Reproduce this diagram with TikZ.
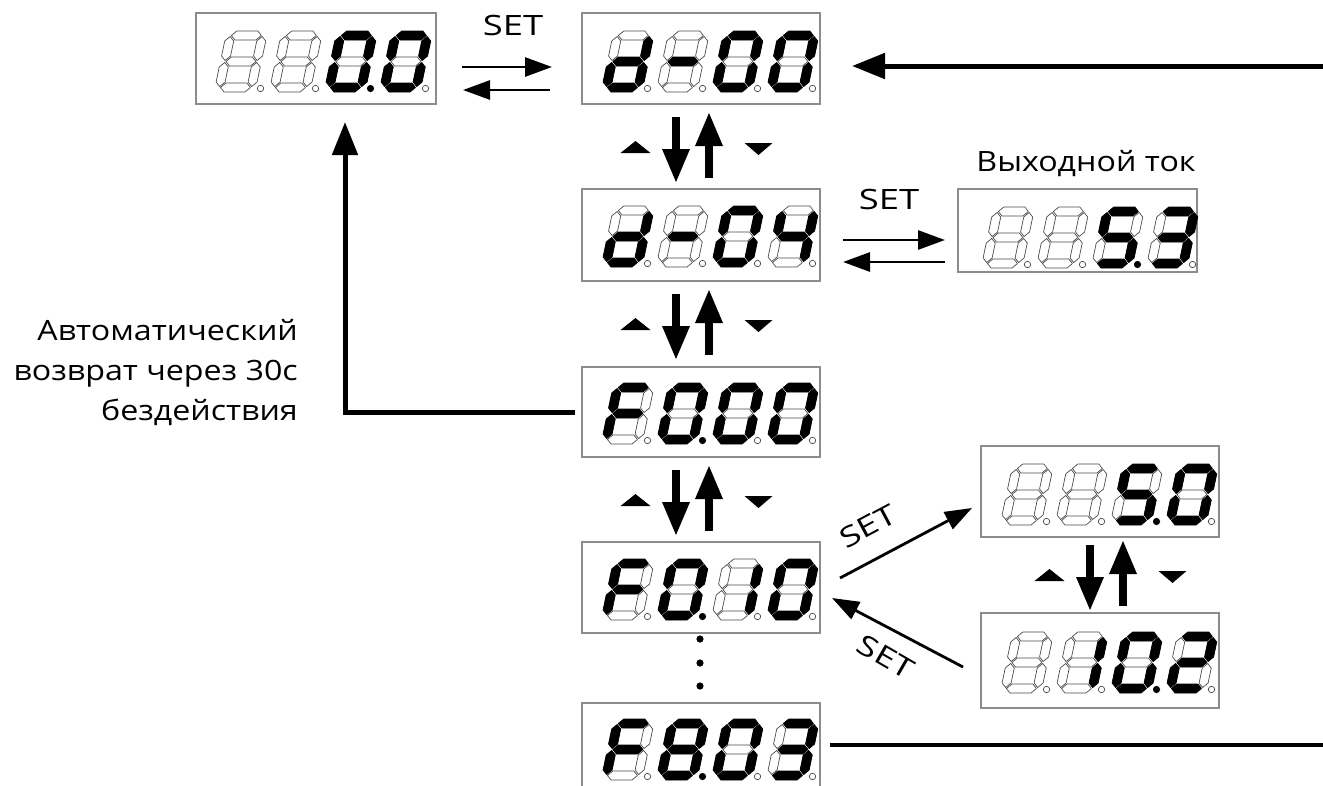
\documentclass[tikz,border=0pt]{standalone}
\usepackage{fontspec}
\setmainfont{Open Sans}[FakeStretch=1.15]
\newfontfamily\setfont{Open Sans}[FakeStretch=1.3]
\usetikzlibrary{arrows.meta,calc}

\newcommand\setbits[8]{\def\sA{#1}\def\sB{#2}\def\sC{#3}\def\sD{#4}\def\sE{#5}\def\sF{#6}\def\sG{#7}\def\sH{#8}}
\newcommand\drawseg[2]{%
  \ifnum#2=1 \tikzset{curseg/.style={segon}}\else\tikzset{curseg/.style={segoff}}\fi
  \ifcase#1\or
    \path[curseg] (5.5,56.5)--(10,61)--(31,61)--(35.5,56.5)--(31,52)--(10,52)--cycle;
  \or
    \path[curseg] (36.5,31.5)--(41,36)--(41,51)--(36.5,55.5)--(32,51)--(32,36)--cycle;
  \or
    \path[curseg] (36.5,5.5)--(41,10)--(41,25)--(36.5,29.5)--(32,25)--(32,10)--cycle;
  \or
    \path[curseg] (5.5,4.5)--(10,9)--(31,9)--(35.5,4.5)--(31,0)--(10,0)--cycle;
  \or
    \path[curseg] (4.5,5.5)--(9,10)--(9,25)--(4.5,29.5)--(0,25)--(0,10)--cycle;
  \or
    \path[curseg] (4.5,31.5)--(9,36)--(9,51)--(4.5,55.5)--(0,51)--(0,36)--cycle;
  \or
    \path[curseg] (5.5,30.5)--(10,35)--(31,35)--(35.5,30.5)--(31,26)--(10,26)--cycle;
  \fi}
\newcommand\sdigit[3]{%
  \expandafter\setbits#3%
  \begin{scope}[shift={(#1,#2)},y=1pt,xslant=0.21]
    \drawseg1\sA \drawseg2\sB \drawseg3\sC \drawseg4\sD
    \drawseg5\sE \drawseg6\sF \drawseg7\sG
  \end{scope}
  \ifnum\sH=1 \fill (#1+46.5,#2-3.5) circle (3.6);\else \draw[dpoff] (#1+46.5,#2-3.5) circle (3.2);\fi}
\newcommand\digits[6]{\sdigit{#1}{#2}{#3}\sdigit{#1+55}{#2}{#4}\sdigit{#1+110}{#2}{#5}\sdigit{#1+165}{#2}{#6}}
\def\pO{0000000}\def\pZ{1111110}\def\pd{0111101}\def\pM{0000001}
\def\pFour{0110011}\def\pFive{1011011}\def\pThree{1111001}\def\pF{1000111}
\def\pOne{0110000}\def\pTwo{1101101}\def\pEight{1111111}

\newcommand\panel[5]{\node[disp,minimum width=#4pt,minimum height=#5pt,anchor=north west] (#1) at (#2,#3) {};}
\newcommand\updown[3]{%
  \begin{scope}[shift={(#1.south)},shift={(#2,#3)}]
    \fill (-72,49)--(-42,49)--(-57,37)--cycle;
    \fill (-20.5,13) rectangle (-12.5,46);
    \fill (-30.5,45)--(-2.5,45)--(-16.5,78)--cycle;
    \fill (12.5,41) rectangle (20.5,74);
    \fill (2.5,42)--(30.5,42)--(16.5,9)--cycle;
    \fill (52,39)--(80,39)--(66,51)--cycle;
  \end{scope}}

\begin{document}
\begin{tikzpicture}[x=1pt,y=-1pt,
  segon/.style={fill=black,draw=black,line width=0.8pt,line join=round},
  segoff/.style={draw=black!70,line width=0.7pt,line join=round},
  dpoff/.style={draw=black!70,line width=0.7pt},
  disp/.style={draw=black!45,line width=1.2pt,inner sep=0pt,outer sep=0pt},
  lbl/.style={font=\fontsize{28}{40}\selectfont,inner sep=0pt},
  setlbl/.style={font=\setfont\fontsize{28}{34}\selectfont,inner sep=0pt},
  setarrow/.style={line width=2.8pt,-{Triangle[length=27pt,width=19pt]}},
  bigarrow/.style={line width=5pt,-{Triangle[length=33pt,width=25pt]}},
  bigline/.style={line width=4.5pt}]
\fill[white] (0,0) rectangle (1323,785);
\clip (0,0) rectangle (1323,785);

% panels
\panel{A}{196}{13}{240}{91}
\panel{B}{582}{13}{238}{91}
\panel{C}{582}{189}{238}{92}
\panel{D}{958}{189}{239}{83}
\panel{E}{582}{367}{238}{90}
\panel{F}{582}{542}{238}{91}
\panel{G}{981}{446}{238}{91}
\panel{H}{981}{613}{238}{95}
\panel{I}{582}{703}{238}{91}

\digits{214}{92}{\pO0}{\pO0}{\pZ1}{\pZ0}
\digits{601}{92}{\pd0}{\pM0}{\pZ0}{\pZ0}
\digits{601}{267}{\pd0}{\pM0}{\pZ0}{\pFour0}
\digits{981}{268}{\pO0}{\pO0}{\pFive1}{\pThree0}
\digits{601}{444}{\pF0}{\pZ1}{\pZ0}{\pZ0}
\digits{601}{620}{\pF0}{\pZ1}{\pOne0}{\pZ0}
\digits{1000}{525}{\pO0}{\pO0}{\pFive1}{\pZ0}
\digits{1000}{693}{\pO0}{\pOne0}{\pZ1}{\pTwo0}
\digits{601}{780}{\pF0}{\pEight1}{\pZ0}{\pThree0}

% up/down groups
\updown{B}{-8.5}{0}
\updown{C}{-8.5}{0}
\updown{E}{-8.5}{0}
\updown{G}{6.5}{-5}

% dots
\foreach \dy in {6,30,53} \fill ($(F.south)+(-1,\dy)$) circle (3.6);

% SET arrows
\node[setlbl] (set1) at (513,25) {SET};
\draw[setarrow] ($(A.east)+(26,8.5)$) -- ($(B.west)+(-30,8.5)$);
\draw[setarrow] ($(B.west)+(-32,31.5)$) -- ($(A.east)+(27,31.5)$);

\node[setlbl] (set2) at (889,199) {SET};
\node[lbl] (cur) at (1086,164) {Выходной ток};
\draw[setarrow] ($(C.east)+(23,5)$) -- ($(D.west)+(-13,9.5)$);
\draw[setarrow] ($(D.west)+(-13,31.5)$) -- ($(C.east)+(23,27)$);

\node[setlbl,rotate=28] (set3) at (868,526) {SET};
\node[setlbl,rotate=-30] (set4) at (886,657) {SET};
\draw[setarrow] ($(F.east)+(20,-9.5)$) -- ($(G.west)+(-9,16.5)$);
\draw[setarrow] ($(H.west)+(-18,6.5)$) -- ($(F.east)+(12,10.5)$);

% long connectors
\coordinate (RT) at (1330,66);
\coordinate (RB) at (1330,745);
\coordinate (IB) at (830,745);
\draw[bigarrow] (RT) -- ($(B.east)+(32,7.5)$);
\draw[bigline] (IB) -- (RB);
\draw[bigarrow] ($(E.west)+(-7,0)$) -| ($(A.south)+(29,18)$);

\node[lbl,anchor=east,align=right] (txt) at (298,373) {Автоматический\\возврат через 30с\\бездействия};
\end{tikzpicture}
\end{document}
